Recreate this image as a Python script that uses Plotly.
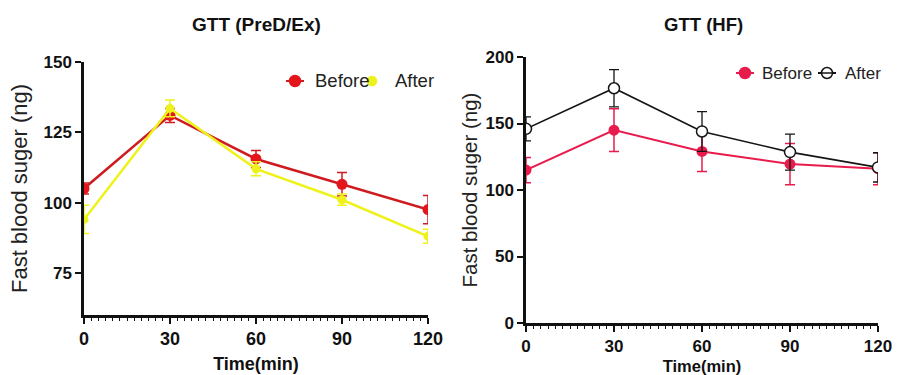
import plotly.graph_objects as go

# Sampling times (min)
times = [0, 30, 60, 90, 120]

# GTT (PreD/Ex) group
pred_before = [105, 131, 115.5, 106.5, 97.5]
pred_before_err = [2, 2.5, 3, 4.2, 5]
pred_after = [94, 133.5, 112, 101, 88]
pred_after_err = [5, 3, 2.5, 2, 2.5]

# GTT (HF) group
hf_before = [115, 145, 129, 119.5, 116]
hf_before_err = [9.5, 16, 15, 15.5, 12]
hf_after = [146, 176.5, 144, 128.5, 117]
hf_after_err = [9, 14, 15, 13.5, 11]

x_ticks = [0, 30, 60, 90, 120]
left_y_ticks = [75, 100, 125, 150]
right_y_ticks = [0, 50, 100, 150, 200]

FONT = "Liberation Sans, Arial, sans-serif"
RED = "#e3161b"
RED_LINE = "#cf1b1f"
YELLOW = "#eef21a"
CRIMSON = "#e81c4c"
BLACK = "#151515"
W, H = 917, 375


def bold(vals):
    return [f"<b>{v}</b>" for v in vals]


def px(x):
    return x / W


def py(y):
    return 1 - y / H


fig = go.Figure()

fig.add_trace(go.Scatter(
    x=times, y=pred_before, name="Before", mode="lines+markers",
    line=dict(color=RED_LINE, width=2.5),
    marker=dict(color=RED, size=11, symbol="circle"),
    error_y=dict(type="data", array=pred_before_err, color=RED_LINE, thickness=1.5, width=5),
    xaxis="x", yaxis="y",
))
fig.add_trace(go.Scatter(
    x=times, y=pred_after, name="After", mode="lines+markers",
    line=dict(color=YELLOW, width=2.5),
    marker=dict(color=YELLOW, size=9, symbol="circle"),
    error_y=dict(type="data", array=pred_after_err, color=YELLOW, thickness=1.5, width=5),
    xaxis="x", yaxis="y",
))
fig.add_trace(go.Scatter(
    x=times, y=hf_before, name="Before", mode="lines+markers",
    line=dict(color=CRIMSON, width=2),
    marker=dict(color=CRIMSON, size=11, symbol="circle"),
    error_y=dict(type="data", array=hf_before_err, color=CRIMSON, thickness=1.5, width=5),
    xaxis="x2", yaxis="y2",
))
fig.add_trace(go.Scatter(
    x=times, y=hf_after, name="After", mode="lines+markers",
    line=dict(color=BLACK, width=1.6),
    marker=dict(color="white", size=11, symbol="circle", line=dict(color=BLACK, width=1.5)),
    error_y=dict(type="data", array=hf_after_err, color=BLACK, thickness=1.3, width=5),
    xaxis="x2", yaxis="y2",
))


def x_axis(domain, anchor, tick_size, title_size, standoff):
    return dict(
        domain=domain, anchor=anchor, range=[0, 120], tickvals=x_ticks, ticktext=bold(x_ticks),
        showline=True, linecolor="#111", linewidth=2.5, ticks="outside", ticklen=6, tickwidth=2,
        tickcolor="#111",
        minor=dict(dtick=2.5, ticks="outside", ticklen=3, tickwidth=1.2, tickcolor="#111"),
        showgrid=False, zeroline=False, automargin=False,
        tickfont=dict(family=FONT, size=tick_size, color="#111"),
        title=dict(text="<b>Time(min)</b>", font=dict(family=FONT, size=title_size, color="#111"),
                   standoff=standoff),
    )


def y_axis(domain, anchor, rng, ticks, title_size, standoff):
    return dict(
        domain=domain, anchor=anchor, range=rng, tickvals=ticks, ticktext=bold(ticks),
        showline=True, linecolor="#111", linewidth=2.5, ticks="outside", ticklen=6,
        tickwidth=2, tickcolor="#111", showgrid=False, zeroline=False, automargin=False,
        tickfont=dict(family=FONT, size=17, color="#111"),
        title=dict(text="Fast blood suger (ng)", font=dict(family=FONT, size=title_size, color="#222"),
                   standoff=standoff),
    )


# Legend entries: (marker x, y, text x, text, fill, edge, line colour, radius, font size)
legend_items = [
    (295, 81, 313, "Before", RED, RED, RED_LINE, 5.5, 18.5),
    (372, 81, 393, "After", YELLOW, YELLOW, None, 4.5, 18.5),
    (745, 73, 760, "Before", CRIMSON, CRIMSON, CRIMSON, 5.5, 17),
    (827, 73, 843, "After", "white", BLACK, BLACK, 5.5, 17),
]
shapes, annotations = [], []
for mx, my, tx, label, fill, edge, lcol, r, fs in legend_items:
    if lcol:
        shapes.append(dict(type="line", xref="paper", yref="paper",
                           x0=px(mx - 9), x1=px(mx + 9), y0=py(my), y1=py(my),
                           line=dict(color=lcol, width=2)))
    shapes.append(dict(type="circle", xref="paper", yref="paper",
                       x0=px(mx - r), x1=px(mx + r), y0=py(my + r), y1=py(my - r),
                       fillcolor=fill, line=dict(color=edge, width=1.5)))
    if fill == "white":
        shapes.append(dict(type="line", xref="paper", yref="paper",
                           x0=px(mx - r), x1=px(mx + r), y0=py(my), y1=py(my),
                           line=dict(color=lcol, width=1.5)))
    annotations.append(dict(text=label, x=px(tx), y=py(my), xref="paper", yref="paper",
                            xanchor="left", yanchor="middle", showarrow=False,
                            font=dict(family=FONT, size=fs, color="#222")))

annotations += [
    dict(text="<b>GTT (PreD/Ex)</b>", x=px(256), y=py(25), xref="paper", yref="paper",
         xanchor="center", yanchor="middle", showarrow=False,
         font=dict(family=FONT, size=19, color="#111")),
    dict(text="<b>GTT (HF)</b>", x=px(703), y=py(25), xref="paper", yref="paper",
         xanchor="center", yanchor="middle", showarrow=False,
         font=dict(family=FONT, size=18.5, color="#111")),
]

fig.update_layout(
    width=W, height=H, margin=dict(l=0, r=0, t=0, b=0, autoexpand=False),
    paper_bgcolor="white", plot_bgcolor="white", showlegend=False,
    xaxis=x_axis([px(84), px(428)], "y", 18, 18, 10),
    yaxis=y_axis([py(315), py(62)], "x", [60, 150], left_y_ticks, 22, 10),
    xaxis2=x_axis([px(526), px(878)], "y2", 17, 16.5, 8),
    yaxis2=y_axis([py(323), py(57)], "x2", [0, 200], right_y_ticks, 20.5, 3),
    shapes=shapes,
    annotations=annotations,
)

fig.write_html("out.html")
